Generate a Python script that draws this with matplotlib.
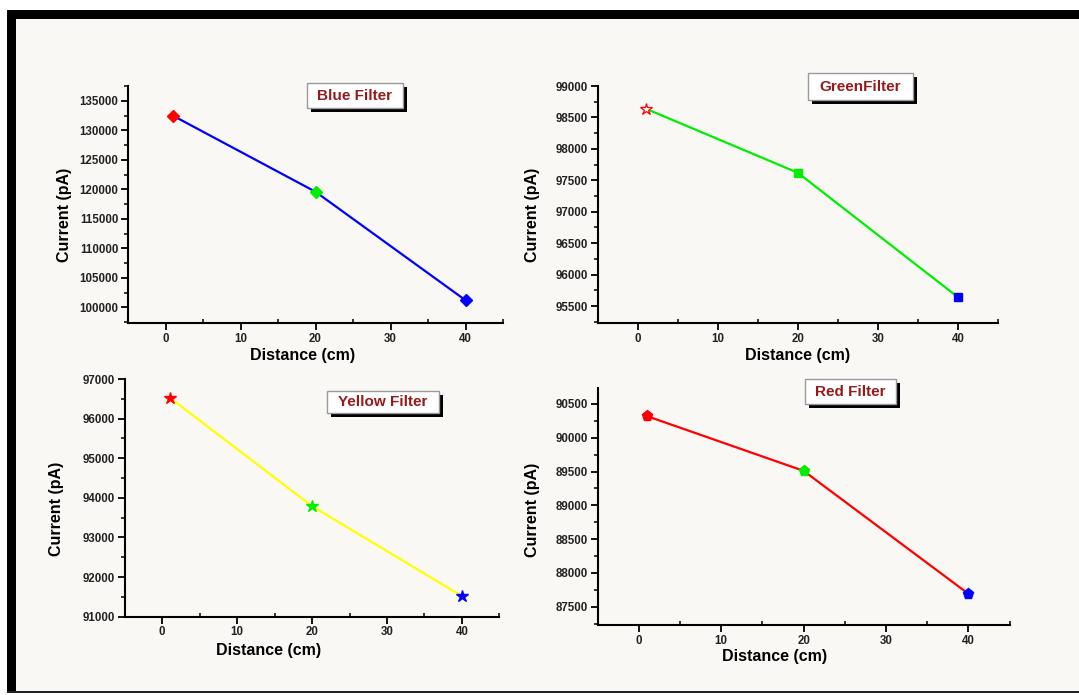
import matplotlib
matplotlib.use("Agg")
import matplotlib.pyplot as plt
from matplotlib.patches import Rectangle
from matplotlib.ticker import MultipleLocator

W, H = 1079, 695
plt.rcParams['font.family'] = ['Liberation Sans', 'DejaVu Sans']
plt.rcParams['font.weight'] = 'bold'

distance = [1, 20, 40]
blue_current = [132500, 119600, 101200]
green_current = [98640, 97620, 95640]
yellow_current = [96530, 93790, 91520]
red_current = [90320, 89510, 87690]
point_colors = ['#ff0000', '#00ee00', '#0000ff']

titles = ['Blue Filter', 'GreenFilter', 'Yellow Filter', 'Red Filter']
x_label = 'Distance (cm)'
y_label = 'Current (pA)'

fig = plt.figure(figsize=(W / 100, H / 100), dpi=100)
fig.patch.set_facecolor('white')

def fx(x):
    return x / W

def fy(y):
    return 1 - y / H

def frect(x0, y0, x1, y1, **kw):
    r = Rectangle((fx(x0), fy(y1)), fx(x1) - fx(x0), fy(y0) - fy(y1),
                  transform=fig.transFigure, **kw)
    fig.patches.append(r)

# background panel and frame
frect(7, 10, 1079, 692, facecolor='#f9f8f5', edgecolor='none', zorder=-10)
frect(7, 10, 1079, 18.5, facecolor='black', edgecolor='none', zorder=1)
frect(7, 10, 15.5, 692, facecolor='black', edgecolor='none', zorder=1)
frect(7, 690.5, 1079, 692.5, facecolor='#222222', edgecolor='none', zorder=1)

panels = [
    dict(rect=(128, 86, 503, 323), ylim=(97340, 137540), ymaj=5000,
         y=blue_current, line='#0000ff', marker='D', ms=6.5, mfc=None,
         box=(306.5, 83, 403, 108), ylab=(65, 215), xlab=(303, 356)),
    dict(rect=(597.6, 86, 998, 323.3), ylim=(95225, 99000), ymaj=500,
         y=green_current, line='#00ee00', marker='s', ms=6, mfc='green_open',
         box=(807.7, 73.3, 912.7, 100), ylab=(533, 215), xlab=(798, 356)),
    dict(rect=(124.7, 379, 499.4, 616.7), ylim=(91000, 97000), ymaj=1000,
         y=yellow_current, line='#ffff00', marker='*', ms=9, mfc=None,
         box=(327.2, 390.7, 439.1, 412.7), ylab=(57, 509), xlab=(268.6, 650)),
    dict(rect=(597.6, 387.7, 1009.7, 625), ylim=(87229, 90741), ymaj=500,
         y=red_current, line='#ff0000', marker='p', ms=8, mfc=None,
         box=(804.9, 379.3, 895.9, 404.3), ylab=(533, 510), xlab=(775, 656)),
]

for p, title in zip(panels, titles):
    x0, y0, x1, y1 = p['rect']
    ax = fig.add_axes([fx(x0), fy(y1), fx(x1) - fx(x0), fy(y0) - fy(y1)])
    ax.set_facecolor('none')
    ax.plot(distance, p['y'], color=p['line'], lw=1.6, zorder=2)
    for i, (xv, yv) in enumerate(zip(distance, p['y'])):
        c = point_colors[i]
        if p['mfc'] == 'green_open' and i == 0:
            ax.plot([xv], [yv], marker='*', ms=9, mfc='white', mec=c, mew=0.9,
                    ls='none', zorder=3)
        else:
            ax.plot([xv], [yv], marker=p['marker'], ms=p['ms'], color=c,
                    mec=c, ls='none', zorder=3)
    ax.set_xlim(-5, 45)
    ax.set_ylim(*p['ylim'])
    ax.xaxis.set_major_locator(MultipleLocator(10))
    ax.xaxis.set_minor_locator(MultipleLocator(5))
    ax.yaxis.set_major_locator(MultipleLocator(p['ymaj']))
    ax.yaxis.set_minor_locator(MultipleLocator(p['ymaj'] / 2))
    for s in ['top', 'right']:
        ax.spines[s].set_visible(False)
    for s in ['left', 'bottom']:
        ax.spines[s].set_linewidth(1.5)
        ax.spines[s].set_color('black')
    ax.tick_params(axis='both', which='major', direction='out', length=5,
                   width=1.3, labelsize=8.3, pad=2)
    ax.tick_params(axis='y', which='minor', direction='out', length=3, width=1.1)
    ax.tick_params(axis='x', which='minor', direction='in', length=3, width=1.1)
    for lab in ax.get_xticklabels() + ax.get_yticklabels():
        lab.set_fontweight('bold')
        lab.set_color('#222222')
    # axis labels
    fig.text(fx(p['ylab'][0]), fy(p['ylab'][1]), y_label, rotation=90,
             ha='center', va='center', fontsize=11.5, fontweight='bold')
    fig.text(fx(p['xlab'][0]), fy(p['xlab'][1]), x_label,
             ha='center', va='center', fontsize=11.5, fontweight='bold')
    # title box with shadow
    bx0, by0, bx1, by1 = p['box']
    frect(bx0 + 4, by0 + 4, bx1 + 4, by1 + 4, facecolor='black',
          edgecolor='none', zorder=4)
    frect(bx0, by0, bx1, by1, facecolor='white', edgecolor='#999999',
          linewidth=1.0, zorder=5)
    fig.text(fx((bx0 + bx1) / 2), fy((by0 + by1) / 2), title, ha='center',
             va='center', fontsize=11, fontweight='bold', color='#951b1b',
             zorder=6)

fig.savefig('out.png', dpi=100, facecolor='white')
